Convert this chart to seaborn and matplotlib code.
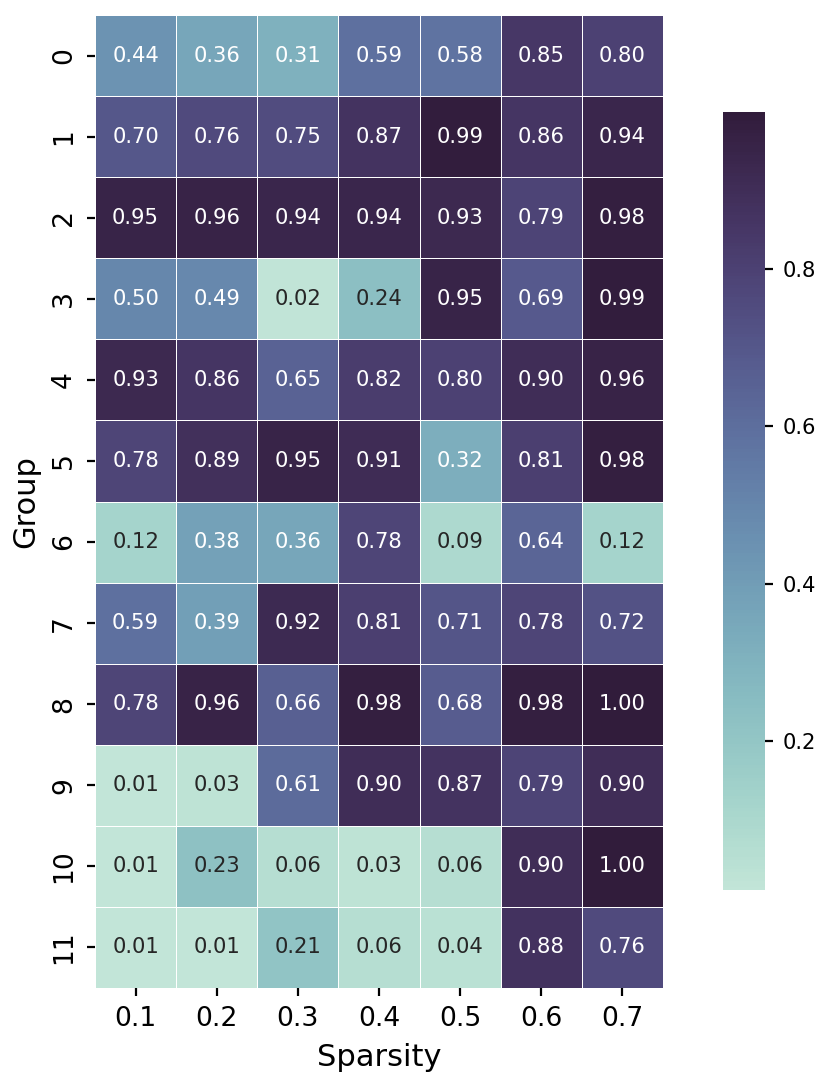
import numpy as np
import pandas as pd
import seaborn as sns
import matplotlib
matplotlib.use("Agg")
import matplotlib.pyplot as plt

sparsity = ["0.1", "0.2", "0.3", "0.4", "0.5", "0.6", "0.7"]
groups = [str(i) for i in range(12)]
values = [
    [0.44, 0.36, 0.31, 0.59, 0.58, 0.85, 0.80],
    [0.70, 0.76, 0.75, 0.87, 0.99, 0.86, 0.94],
    [0.95, 0.96, 0.94, 0.94, 0.93, 0.79, 0.98],
    [0.50, 0.49, 0.02, 0.24, 0.95, 0.69, 0.99],
    [0.93, 0.86, 0.65, 0.82, 0.80, 0.90, 0.96],
    [0.78, 0.89, 0.95, 0.91, 0.32, 0.81, 0.98],
    [0.12, 0.38, 0.36, 0.78, 0.09, 0.64, 0.12],
    [0.59, 0.39, 0.92, 0.81, 0.71, 0.78, 0.72],
    [0.78, 0.96, 0.66, 0.98, 0.68, 0.98, 1.00],
    [0.01, 0.03, 0.61, 0.90, 0.87, 0.79, 0.90],
    [0.01, 0.23, 0.06, 0.03, 0.06, 0.90, 1.00],
    [0.01, 0.01, 0.21, 0.06, 0.04, 0.88, 0.76],
]

df = pd.DataFrame(values, index=groups, columns=sparsity)

dpi = 200
fig = plt.figure(figsize=(830 / dpi, 1085 / dpi), dpi=dpi)
ax = fig.add_axes([95 / 830, 1 - 988 / 1085, (663 - 95) / 830, (988 - 15) / 1085])
cax = fig.add_axes([723 / 830, 1 - 890 / 1085, (765 - 723) / 830, (890 - 112) / 1085])

cmap = sns.cubehelix_palette(start=.5, rot=-.5, as_cmap=True)
sns.heatmap(df, ax=ax, cbar_ax=cax, cmap=cmap, annot=True, fmt=".2f",
            linewidths=0.3, linecolor="white", annot_kws={"size": 7.6})

ax.set_xlabel("Sparsity", fontsize=11)
ax.set_ylabel("Group", fontsize=11)
ax.tick_params(axis="both", labelsize=9.6, length=3)
ax.set_yticklabels(ax.get_yticklabels(), rotation=90, va="center")
ax.set_xticklabels(ax.get_xticklabels(), rotation=0)
cax.tick_params(labelsize=7.6, length=3)
cax.set_yticks([0.2, 0.4, 0.6, 0.8])

fig.savefig("out.png", dpi=dpi)
